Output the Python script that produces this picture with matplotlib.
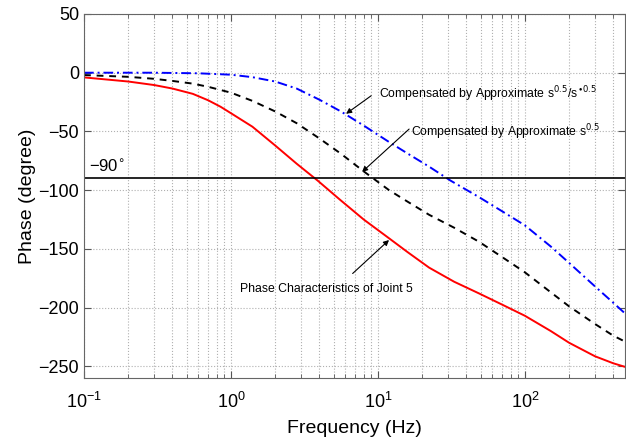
import matplotlib.pyplot as plt
from matplotlib.ticker import LogLocator, NullFormatter

plt.rcParams['font.family'] = ['Liberation Sans', 'DejaVu Sans']

# phase of the uncompensated joint
freq_joint = [0.1, 0.2, 0.3, 0.4, 0.55, 0.7, 0.85, 1.0, 1.4, 2.0, 2.8, 3.9, 5.5,
              8.0, 11.9, 16, 22.3, 33, 48.8, 70, 100, 150, 200, 300, 400, 480]
phase_joint = [-4, -7.5, -10.5, -13.5, -18, -23.5, -29, -34.5, -46, -62, -77.5, -92, -108,
               -125, -141, -153, -166, -178, -188, -197.5, -207, -220, -230, -241.5,
               -247.5, -250.5]

# compensated by s^0.5
freq_half = [0.1, 0.2, 0.3, 0.4, 0.55, 0.7, 1.0, 1.4, 2.0, 2.8, 4.0, 5.6, 8.0, 11.9,
             16, 22.3, 33, 48.8, 70, 100, 150, 200, 300, 400, 480]
phase_half = [-2, -3.5, -5.2, -7, -9.3, -12, -17, -24, -33, -43, -56, -69, -84, -100,
              -110, -121, -132, -144, -157, -170, -187, -199, -214, -224, -229]

# compensated by s^0.5/s^-0.5
freq_full = [0.1, 0.3, 0.6, 1.0, 1.4, 2.0, 2.8, 4.0, 5.6, 8.0, 11.9, 16,
             22.3, 31.3, 48.8, 70, 100, 150, 200, 300, 400, 480]
phase_full = [0, 0, -0.5, -1.7, -3.8, -7.5, -13.5, -23, -33, -45, -59, -69,
              -80, -92, -106, -118, -130, -148, -162, -182, -196, -205]

fig = plt.figure(figsize=(6.26, 4.38), dpi=100)
ax = fig.add_axes([84 / 626, 60 / 438, 541 / 626, 364 / 438])

ax.semilogx(freq_joint, phase_joint, color='red', lw=1.4)
ax.semilogx(freq_half, phase_half, color='black', ls=(0, (3.5, 3)), lw=1.4)
ax.semilogx(freq_full, phase_full, color='blue', ls=(0, (5, 2, 1, 2)), lw=1.4)
ax.axhline(-90, color='black', lw=1.2)

ax.set_xlim(0.1, 480)
ax.set_ylim(-260, 50)
ax.set_yticks([50, 0, -50, -100, -150, -200, -250])
ax.set_yticklabels(['50', '0', '\u221250', '\u2212100', '\u2212150', '\u2212200', '\u2212250'])
ax.xaxis.set_major_locator(LogLocator(base=10, numticks=10))
ax.xaxis.set_minor_locator(LogLocator(base=10, subs=range(2, 10), numticks=20))
ax.xaxis.set_minor_formatter(NullFormatter())

ax.grid(True, which='major', ls=':', color='#b0b0b0', lw=0.8)
ax.grid(True, which='minor', axis='x', ls=':', color='#b0b0b0', lw=0.8)
ax.tick_params(which='both', direction='in', top=True, right=True, colors='#555555',
               labelcolor='black', labelsize=13)
ax.tick_params(which='major', length=5)
ax.tick_params(axis='x', which='major', pad=10)
ax.tick_params(which='minor', length=3)
for s in ax.spines.values():
    s.set_color('#666666')

ax.set_xlabel('Frequency (Hz)', fontsize=14, labelpad=6)
ax.set_ylabel('Phase (degree)', fontsize=14, labelpad=2)

ax.text(0.108, -87, '\u221290$^{\\circ}$', fontsize=12, va='bottom', ha='left')

arrow = dict(arrowstyle='-|>', color='black', lw=0.8, mutation_scale=8,
             shrinkA=0, shrinkB=0)

ax.text(10.2, -18, 'Compensated by Approximate s$^{0.5}$/s$^{\\bullet 0.5}$',
        fontsize=8.8, va='center', ha='left')
ax.annotate('', xy=(6.07, -35), xytext=(9.0, -19.6), arrowprops=arrow)

ax.text(16.8, -50.7, 'Compensated by Approximate s$^{0.5}$',
        fontsize=8.8, va='center', ha='left')
ax.annotate('', xy=(7.8, -84.5), xytext=(16.3, -48), arrowprops=arrow)

ax.text(1.146, -184, 'Phase Characteristics of Joint 5',
        fontsize=8.8, va='center', ha='left')
ax.annotate('', xy=(11.9, -142.5), xytext=(6.73, -171), arrowprops=arrow)

fig.savefig('out.png', dpi=100)
